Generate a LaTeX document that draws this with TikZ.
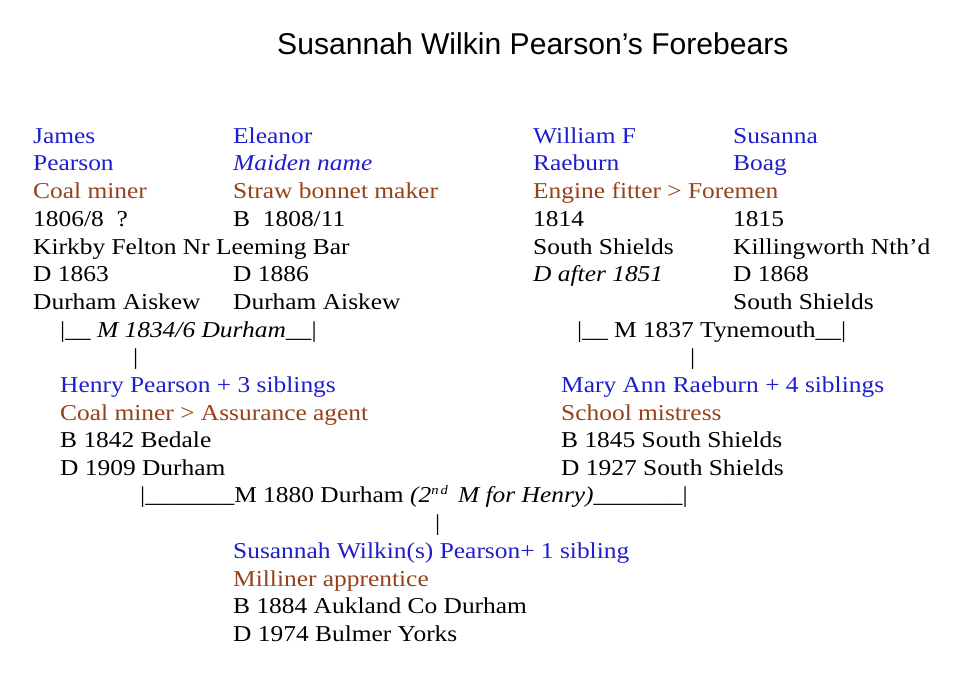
\documentclass[tikz,border=0pt]{standalone}
\usepackage{fontspec}
\setmainfont{Liberation Serif}[FakeStretch=1.12]
\newfontfamily\headfont{Liberation Sans}
\definecolor{nameblue}{RGB}{30,30,205}
\definecolor{jobbrown}{RGB}{150,65,25}
\newcommand{\nm}[1]{\textcolor{nameblue}{#1}}
\newcommand{\job}[1]{\textcolor{jobbrown}{#1}}
\begin{document}
\begin{tikzpicture}[x=1pt, y=-1pt,
		entry/.style={anchor=base west, inner sep=0pt, align=left, font=\fontsize{22.7}{27.7}\selectfont},
		heading/.style={anchor=base west, inner sep=0pt, font=\headfont\fontsize{30.1}{35}\selectfont}]
		\useasboundingbox (0,0) rectangle (969,674);

		\node[heading] (title) at (277,54.4) {Susannah Wilkin Pearson’s Forebears};

		\node[entry] (james) at (33,309.4) {\nm{James}\\ \nm{Pearson}\\ \job{Coal miner}\\ 1806/8~~?\\ Kirkby Felton Nr Leeming Bar\\ D 1863\\ Durham Aiskew};
		\node[entry] (eleanor) at (233,309.4) {\nm{Eleanor}\\ \nm{\textit{Maiden name}}\\ \job{Straw bonnet maker}\\ B~~1808/11\\ \mbox{}\\ D 1886\\ Durham Aiskew};
		\node[entry] (william) at (533,281.7) {\nm{William F}\\ \nm{Raeburn}\\ \job{Engine fitter > Foremen}\\ 1814\\ South Shields\\ \textit{D after 1851}};
		\node[entry] (susanna) at (733,309.4) {\nm{Susanna}\\ \nm{Boag}\\ \mbox{}\\ 1815\\ Killingworth Nth'd\\ D 1868\\ South Shields};

		\node[entry] (mleft) at (60,337.0) {\textbar\_\_ \textit{M 1834/6 Durham\_\_}\textbar};
		\node[entry] (mright) at (577,337.0) {\textbar\_\_ M 1837 Tynemouth\_\_\textbar};
		\node[entry] (barleft) at (133,364.6) {\textbar};
		\node[entry] (barright) at (690,364.6) {\textbar};

		\node[entry] (henry) at (60,475.5) {\nm{Henry Pearson + 3 siblings}\\ \job{Coal miner > Assurance agent}\\ B 1842 Bedale\\ D 1909 Durham};
		\node[entry] (maryann) at (561,475.5) {\nm{Mary Ann Raeburn + 4 siblings}\\ \job{School mistress}\\ B 1845 South Shields\\ D 1927 South Shields};

		\node[entry] (mbottom) at (140,502.9) {\textbar\_\_\_\_\_\_\_M 1880 Durham \textit{(2\raisebox{8pt}{\fontsize{13}{15}\selectfont n\,d}\, M for Henry)}\_\_\_\_\_\_\_\textbar};
		\node[entry] (barbottom) at (435,530.6) {\textbar};

		\node[entry] (susannah) at (233,641.4) {\nm{Susannah Wilkin(s) Pearson+ 1 sibling}\\ \job{Milliner apprentice}\\ B 1884 Aukland Co Durham\\ D 1974 Bulmer Yorks};
	\end{tikzpicture}
\end{document}
